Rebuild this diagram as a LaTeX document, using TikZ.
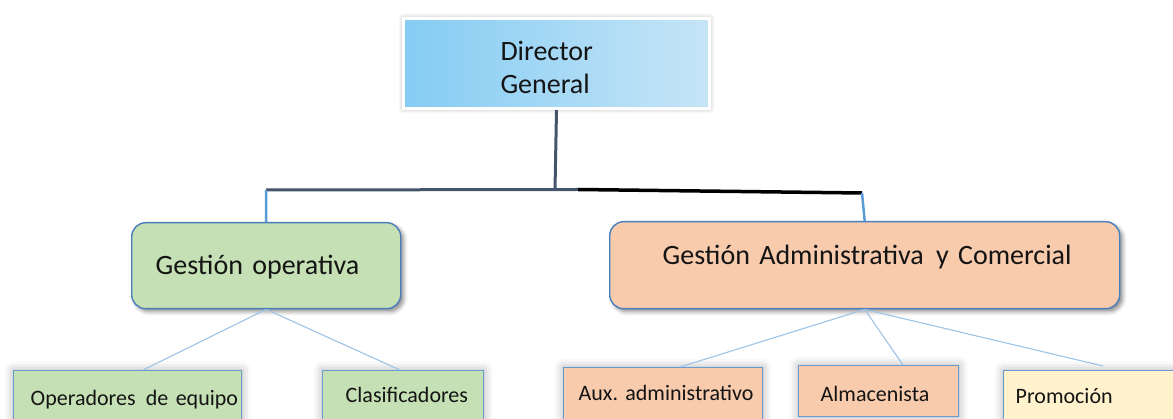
\documentclass[tikz,border=0pt]{standalone}
\usepackage{fontspec}
\setmainfont{Carlito}[WordSpace=0.75]
\frenchspacing
\usetikzlibrary{shadows.blur}
\definecolor{slate}{HTML}{44546A}
\definecolor{linkblue}{HTML}{5B9BD5}
\definecolor{thinblue}{HTML}{9DC3E6}
\definecolor{boxedge}{HTML}{4A7EBB}
\definecolor{edgetwo}{HTML}{6A9BD0}
\definecolor{greenfill}{HTML}{C5E0B4}
\definecolor{salmon}{HTML}{F8CBAD}
\definecolor{cream}{HTML}{FFF2CC}
\definecolor{skyL}{HTML}{85CCF3}
\definecolor{skyR}{HTML}{C6E5F7}
\definecolor{ink}{HTML}{141414}
\begin{document}
\begin{tikzpicture}[x=1pt,y=-1pt,
  pbox/.style n args={4}{anchor=north west, inner ysep=0pt, inner xsep=#3pt,
     minimum width=#1pt, minimum height=#2pt, text width={#1pt-2*#3pt},
     text height=#4pt, text depth={#2pt-#4pt}, align=left, text=ink},
  bigfont/.style={font=\fontsize{28}{33}\selectfont},
  smallfont/.style={font=\fontsize{22}{26}\selectfont},
  roundbox/.style={draw=boxedge, line width=1.4pt, rounded corners=14pt, bigfont,
     blur shadow={shadow xshift=3pt, shadow yshift=-3pt, shadow blur radius=4pt, shadow opacity=45}},
  leafbox/.style={draw=edgetwo, line width=1.4pt, smallfont,
     blur shadow={shadow xshift=0pt, shadow yshift=0pt, shadow blur radius=9pt, shadow opacity=35}},
  busline/.style={draw=slate, line width=3pt},
  feed/.style={draw=linkblue, line width=2.5pt},
  twig/.style={draw=thinblue, line width=1.1pt}
]
\useasboundingbox (0,0) rectangle (1173,419);
\clip (0,0) rectangle (1173,419);

% top box
\node[pbox={306}{90}{97}{42}, bigfont, draw=white, line width=3pt,
      left color=skyL, right color=skyR,
      blur shadow={shadow xshift=0pt, shadow yshift=0pt, shadow blur radius=5pt, shadow opacity=35},
      path picture={\draw[line width=1.5pt, draw=skyL!70!black!80] (path picture bounding box.south west) -- (path picture bounding box.south east);}]
      (dir) at (402,17) {Director\\General};

% second level
\node[pbox={269}{86}{24}{52}, roundbox, fill=greenfill] (gop) at (131,222) {\mbox{Gestión operativa}};
\node[pbox={510}{87}{53}{43}, roundbox, fill=salmon] (gac) at (609,221) {\mbox{Gestión Administrativa\hspace{3pt} y Comercial}};

% third level
\node[pbox={228}{90}{17}{35}, leafbox, fill=greenfill] (ope) at (13,370) {\mbox{Operadores\hspace{3pt} de equipo}};
\node[pbox={161}{90}{23}{32}, leafbox, fill=greenfill] (cla) at (322,370) {\mbox{Clasificadores}};
\node[pbox={199}{90}{15}{33}, leafbox, fill=salmon] (aux) at (563,367) {\mbox{Aux. administrativo}};
\node[pbox={160}{51}{22}{36}, leafbox, fill=salmon] (alm) at (798,365) {\mbox{Almacenista}};
\node[pbox={200}{90}{12}{33}, leafbox, fill=cream] (pro) at (1003,370) {\mbox{Promoción}};

% bus
\coordinate (busL) at (266,190);
\coordinate (busM) at (555,190);
\coordinate (busJ) at (578,189.5);
\coordinate (busR) at (862,193);
\draw[busline] (dir.south) -- (busM);
\draw[busline] (busL) -- (busJ);
\draw[line width=3.5pt, black] (busJ) -- (busR);
\draw[feed] (busL) -- (gop.north);
\draw[feed] (busR) -- (gac.north);

% twigs
\draw[twig] (gop.south) -- ([xshift=130pt]ope.north west);
\draw[twig] (gop.south) -- ([xshift=78pt]cla.north west);
\draw[twig] (gac.south) -- ([xshift=117pt]aux.north west);
\draw[twig] (gac.south) -- ([xshift=105pt]alm.north west);
\draw[twig] (gac.south) -- ([xshift=100pt,yshift=4pt]pro.north west);
\end{tikzpicture}
\end{document}
